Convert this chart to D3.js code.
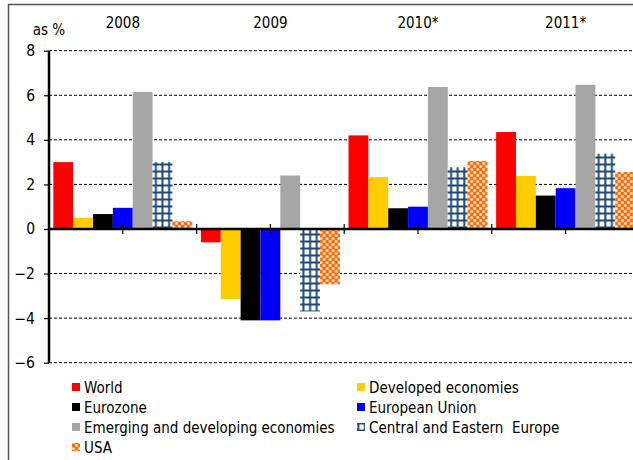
<!DOCTYPE html>
<html><head><meta charset="utf-8">
<script src="https://cdn.jsdelivr.net/npm/d3@7"></script>
<style>
html,body{margin:0;padding:0;background:#fff;}
svg text{font-family:"DejaVu Sans Condensed","DejaVu Sans",sans-serif;font-stretch:condensed;fill:#000;white-space:pre;}
</style></head>
<body>
<svg id="chart" width="633" height="460"></svg>
<script>
// ---- data ----
const categories = ["2008", "2009", "2010*", "2011*"];
const seriesNames = ["World", "Developed economies", "Eurozone", "European Union",
  "Emerging and developing economies", "Central and Eastern  Europe", "USA"];
const world      = [3.0, -0.6, 4.2, 4.35];
const developed  = [0.5, -3.15, 2.33, 2.38];
const eurozone   = [0.67, -4.1, 0.93, 1.5];
const eu         = [0.95, -4.1, 1.0, 1.83];
const emerging   = [6.15, 2.4, 6.37, 6.47];
const cee        = [3.0, -3.7, 2.77, 3.38];
const usa        = [0.35, -2.48, 3.05, 2.56];
const yTicks     = [-6, -4, -2, 0, 2, 4, 6, 8];
const yUnit      = "as %";

const seriesValues = [world, developed, eurozone, eu, emerging, cee, usa];
const fills = ["#ff0000", "#ffcc00", "#000000", "#0000ff", "#a6a6a6", "url(#pCEE)", "url(#pUSA)"];

const svg = d3.select("#chart");

// patterns
const defs = svg.append("defs");
const pc = defs.append("pattern").attr("id", "pCEE").attr("patternUnits", "userSpaceOnUse")
  .attr("width", 6.6).attr("height", 7);
pc.append("rect").attr("width", 6.6).attr("height", 7).attr("fill", "#fff");
pc.append("rect").attr("x", 0.3).attr("width", 2).attr("height", 7).attr("fill", "#1f4a78");
pc.append("rect").attr("y", 2.5).attr("width", 6.6).attr("height", 2).attr("fill", "#1f4a78");
const pu = defs.append("pattern").attr("id", "pUSA").attr("patternUnits", "userSpaceOnUse")
  .attr("width", 6).attr("height", 6);
pu.append("rect").attr("width", 6).attr("height", 6).attr("fill", "#ff6a00");
pu.append("rect").attr("x", 0.3).attr("y", 0.3).attr("width", 2.4).attr("height", 2.4).attr("fill", "#fff");
pu.append("rect").attr("x", 3.3).attr("y", 3.3).attr("width", 2.4).attr("height", 2.4).attr("fill", "#fff");

// frame
svg.append("path").attr("d", "M8.5,460 V4.5 H633").attr("fill", "none")
  .attr("stroke", "#555").attr("stroke-width", 1.5);

// scales
const x0 = d3.scaleBand().domain(categories).range([49, 49 + 4 * 147.6]).padding(0);
const x1 = d3.scaleBand().domain(d3.range(seriesNames.length)).range([0, x0.bandwidth()])
  .paddingInner(0).paddingOuter(0.218);
const y = d3.scaleLinear().domain([-6, 8]).range([362.7, 50.7]);

// gridlines
svg.append("g").selectAll("line").data(yTicks.filter(d => d !== 0)).join("line")
  .attr("x1", 49).attr("x2", 633).attr("y1", d => y(d)).attr("y2", d => y(d))
  .attr("stroke", "#000").attr("stroke-width", 1).attr("stroke-dasharray", "3,2");

// bars
const groups = svg.append("g").selectAll("g").data(categories).join("g")
  .attr("transform", c => `translate(${x0(c)},0)`);
groups.selectAll("rect").data((c, ci) => seriesValues.map((vals, si) => ({ si, v: vals[ci] })))
  .join("rect")
  .attr("x", d => x1(d.si))
  .attr("width", x1.bandwidth())
  .attr("y", d => y(Math.max(0, d.v)))
  .attr("height", d => Math.abs(y(d.v) - y(0)))
  .attr("fill", d => fills[d.si]);

// zero line
svg.append("line").attr("x1", 49).attr("x2", 633).attr("y1", y(0)).attr("y2", y(0))
  .attr("stroke", "#000").attr("stroke-width", 2.5);

// category tick marks on zero line
const tickXs = [];
categories.forEach(c => { tickXs.push(x0(c) + x0.bandwidth() / 2); tickXs.push(x0(c) + x0.bandwidth()); });
svg.append("g").selectAll("line").data(tickXs).join("line")
  .attr("x1", d => d).attr("x2", d => d).attr("y1", y(0) - 5).attr("y2", y(0) + 5)
  .attr("stroke", "#000").attr("stroke-width", 1.2);

// y axis
const yAxis = svg.append("g").attr("transform", "translate(49,0)")
  .call(d3.axisLeft(y).tickValues(yTicks).tickSize(5).tickPadding(9).tickFormat(d3.format("d")));
yAxis.select(".domain").attr("stroke", "#000").attr("stroke-width", 2.5).attr("d", `M0,${y(-6)}V${y(8)}`);
yAxis.selectAll(".tick line").attr("stroke", "#000").attr("stroke-width", 1.2);
yAxis.selectAll(".tick text").attr("font-size", 15.5).attr("font-family", null);

// unit label
svg.append("text").attr("x", 49).attr("y", 35).attr("text-anchor", "middle")
  .attr("font-size", 15).text(yUnit);

// category labels at top
svg.append("g").selectAll("text").data(categories).join("text")
  .attr("x", c => x0(c) + x0.bandwidth() / 2).attr("y", 28).attr("text-anchor", "middle")
  .attr("font-size", 15).text(c => c);

// legend
const legend = svg.append("g");
const legItems = legend.selectAll("g").data(seriesNames).join("g")
  .attr("transform", (d, i) => `translate(${i % 2 === 0 ? 72 : 357},${387 + Math.floor(i / 2) * 20})`);
legItems.append("rect").attr("x", 0).attr("y", -4).attr("width", 8).attr("height", 8)
  .attr("fill", (d, i) => fills[i]);
legItems.append("text").attr("x", 12).attr("y", 5.5).attr("font-size", 15).text(d => d);
</script>
</body></html>
